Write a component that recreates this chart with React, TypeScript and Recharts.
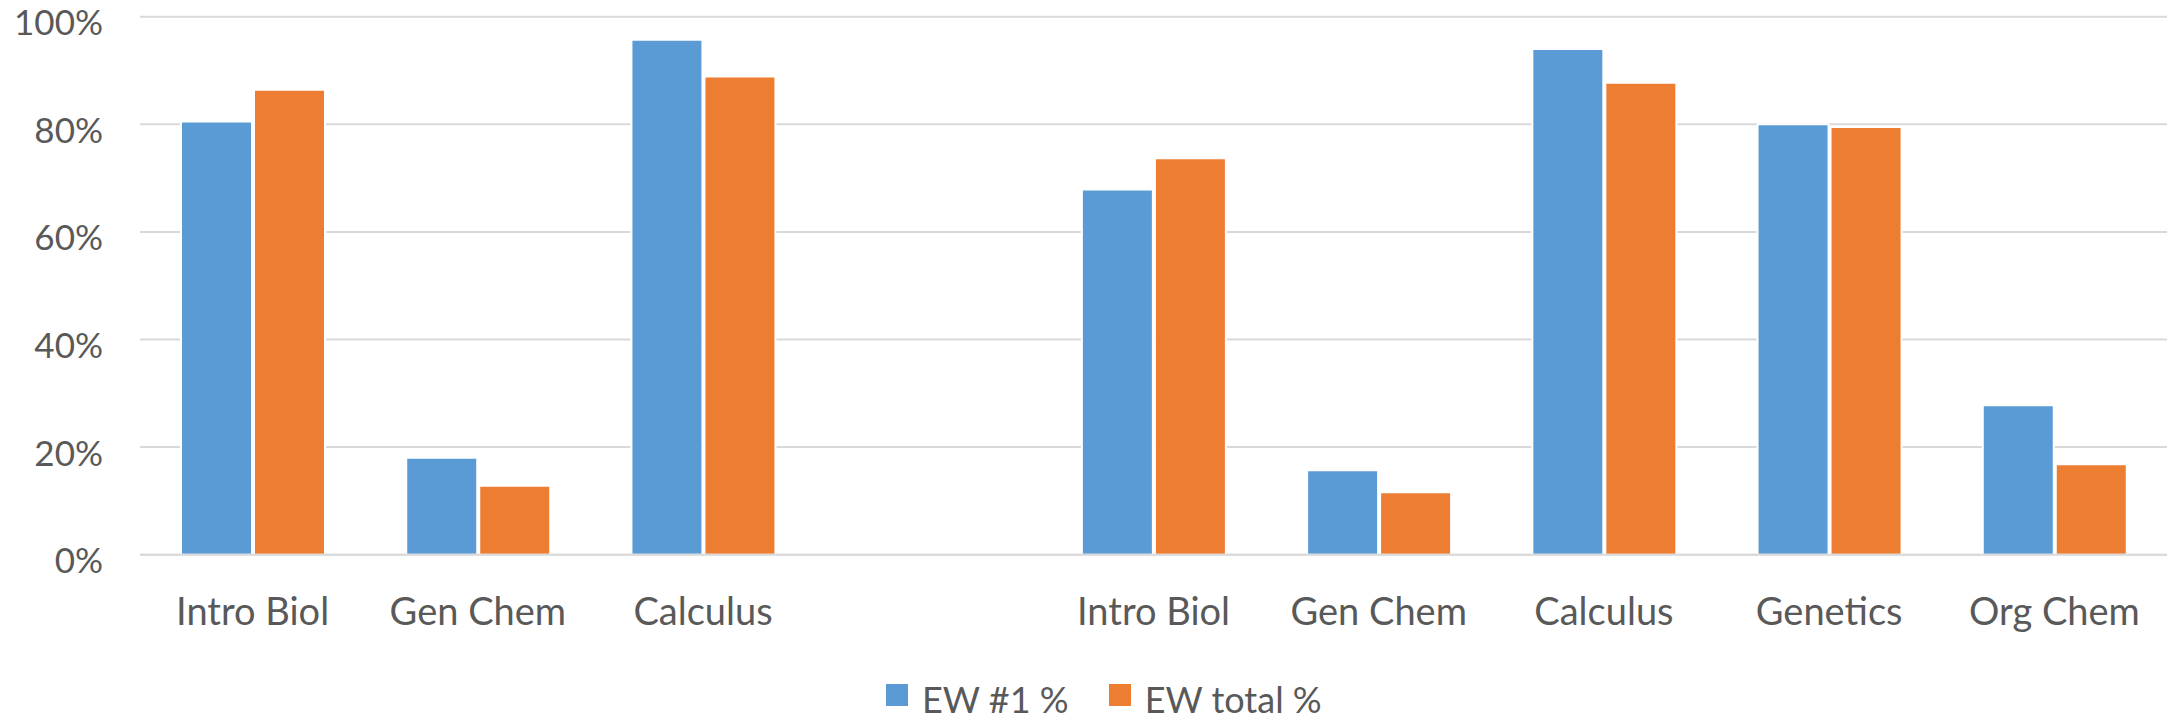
import React from 'react';
import { BarChart, Bar, XAxis, YAxis, CartesianGrid, Legend } from 'recharts';

const categories = ["Intro Biol", "Gen Chem", "Calculus", "", "Intro Biol", "Gen Chem", "Calculus", "Genetics", "Org Chem"];
const ew1Values = [80.5, 18.0, 95.7, null, 67.9, 15.7, 94.0, 80.0, 27.8];
const ewTotalValues = [86.4, 12.8, 88.9, null, 73.7, 11.6, 87.7, 79.5, 16.8];
const yTicks = [0, 20, 40, 60, 80, 100];
const seriesNames = ["EW #1 %", "EW total %"];
const seriesColors = ["#5B9BD5", "#ED7D31"];

const data = categories.map((c, i) => ({ category: c, ew1: ew1Values[i], ewTotal: ewTotalValues[i] }));

const FONT = "Lato, 'Open Sans', sans-serif";
const TEXT = "#595959";

const XTick = (props: any) => {
  const { x, y, payload } = props;
  return (
    <text x={x} y={y} dy={70.3} textAnchor="middle" fill={TEXT} fontFamily={FONT} fontSize={38}>
      {payload.value}
    </text>
  );
};

const YTick = (props: any) => {
  const { x, y, payload } = props;
  return (
    <text x={x} y={y} dy={18.5} textAnchor="end" fill={TEXT} fontFamily={FONT} fontSize={35}>
      {payload.value + '%'}
    </text>
  );
};

const renderLegend = (props: any) => {
  const { payload } = props;
  return (
    <div style={{ height: 44, display: 'flex', alignItems: 'center', paddingLeft: 886, fontFamily: FONT, fontSize: 36, color: TEXT, boxSizing: 'border-box' }}>
      {payload.map((p: any, i: number) => (
        <div key={i} style={{ display: 'flex', alignItems: 'center', marginRight: 40 }}>
          <span style={{ width: 22, height: 22, background: p.color, display: 'inline-block', marginRight: 14, marginBottom: 8 }} />
          <span style={{ whiteSpace: 'nowrap' }}>{p.value}</span>
        </div>
      ))}
    </div>
  );
};

export default function App() {
  return (
    <div style={{ position: 'absolute', left: 0, top: 0, width: 2168, height: 726, background: '#fff' }}>
      <BarChart
        width={2168}
        height={726}
        data={data}
        margin={{ top: 16.7, right: 1, bottom: 5, left: 0 }}
        barCategoryGap={41}
        barGap={2}
      >
        <CartesianGrid vertical={false} stroke="#d9d9d9" strokeWidth={2} />
        <XAxis
          dataKey="category"
          height={122.3}
          axisLine={{ stroke: '#d9d9d9', strokeWidth: 2 }}
          tickLine={false}
          tickSize={0}
          tickMargin={0}
          tick={XTick}
          interval={0}
        />
        <YAxis
          width={140}
          domain={[0, 100]}
          ticks={yTicks}
          axisLine={false}
          tickLine={false}
          tickSize={0}
          tickMargin={37}
          tick={YTick}
          interval={0}
        />
        <Legend verticalAlign="bottom" content={renderLegend} />
        <Bar dataKey="ew1" name={seriesNames[0]} fill={seriesColors[0]} stroke="#ffffff" strokeWidth={2} isAnimationActive={false} />
        <Bar dataKey="ewTotal" name={seriesNames[1]} fill={seriesColors[1]} stroke="#ffffff" strokeWidth={2} isAnimationActive={false} />
      </BarChart>
    </div>
  );
}
